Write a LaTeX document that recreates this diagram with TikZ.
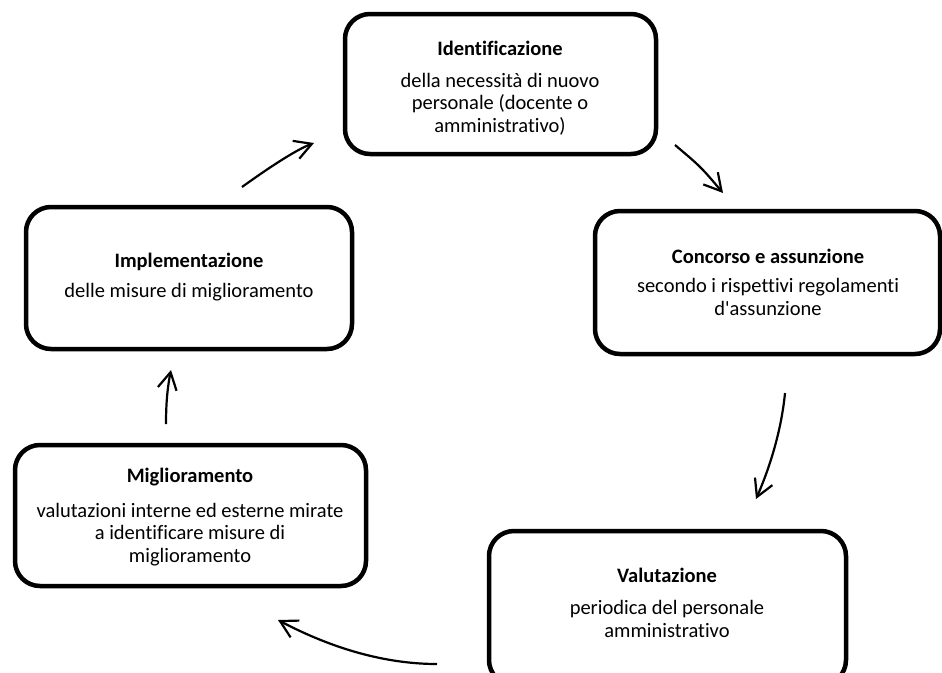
\documentclass[tikz,border=0pt]{standalone}
\usepackage{fontspec}
\setmainfont{Carlito}[Ligatures={NoCommon}]
\usetikzlibrary{arrows.meta}
\tikzset{
  box/.style={draw=black, line width=4.5pt, rounded corners=25pt, inner sep=0pt},
  ttl/.style={anchor=base, inner sep=0pt, font=\fontsize{20.5}{22.5}\selectfont\bfseries},
  bdy/.style={anchor=base, inner sep=0pt, align=center, font=\fontsize{20.5}{22.5}\selectfont},
  flow/.style={line width=2.2pt, -{Straight Barb[length=17pt,width=19pt,line width=2.2pt]}}
}
\begin{document}
\begin{tikzpicture}[x=1pt,y=-1pt]
\useasboundingbox (0,0) rectangle (942,672);
\clip (0,0) rectangle (942,672);
% boxes
\node[box, minimum width=311pt, minimum height=140pt] (b1) at (500.5,84) {};
\node[box, minimum width=345pt, minimum height=143pt] (b2) at (767.5,282.5) {};
\node[box, minimum width=326pt, minimum height=142pt] (b3) at (189,278) {};
\node[box, minimum width=351pt, minimum height=141pt] (b4) at (190.5,515.5) {};
\node[box, minimum width=357pt, minimum height=154pt] (b5) at (667.5,608) {};
% texts (body nodes anchored at the baseline of their last line)
\node[ttl] (t1) at (500,55) {Identificazione};
\node[bdy] (d1) at (500,132) {della necessità di nuovo\\personale (docente o\\amministrativo)};
\node[ttl] (t2) at (768,263) {Concorso e assunzione};
\node[bdy] (d2) at (768,315) {secondo i rispettivi regolamenti\\d\textquotesingle assunzione};
\node[ttl] (t3) at (189,267) {Implementazione};
\node[bdy] (d3) at (189,297) {delle misure di miglioramento};
\node[ttl] (t4) at (190,482) {Miglioramento};
\node[bdy] (d4) at (190,562) {valutazioni interne ed esterne mirate\\a identificare misure di\\miglioramento};
\node[ttl] (t5) at (667,582) {Valutazione};
\node[bdy] (d5) at (667,637) {periodica del personale\\amministrativo};
% arrow end points
\coordinate (a1s) at (242,187); \coordinate (a1e) at (314,143);
\coordinate (a2s) at (675,145); \coordinate (a2e) at (723,193);
\coordinate (a3s) at (785,393); \coordinate (a3e) at (756,499);
\coordinate (a4s) at (437,664); \coordinate (a4e) at (278,620);
\coordinate (a5s) at (166,424); \coordinate (a5e) at (171,370);
% arrows
\draw[flow] (a1s) .. controls (274,164) and (298,149) .. (a1e);
\draw[flow] (a2s) .. controls (701,167) .. (a2e);
\draw[flow] (a3s) .. controls (782,424) and (773,460) .. (a3e);
\draw[flow] (a4s) .. controls (386,664) and (333,649) .. (a4e);
\draw[flow] (a5s) .. controls (166,400) and (168,385) .. (a5e);
\end{tikzpicture}
\end{document}
